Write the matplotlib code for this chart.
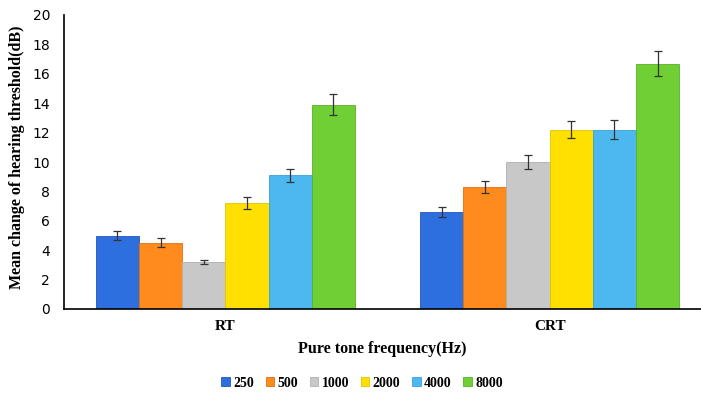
import numpy as np
import matplotlib.pyplot as plt

groups = ['RT', 'CRT']
freqs = ['250', '500', '1000', '2000', '4000', '8000']
means = {
    '250': [5.0, 6.6],
    '500': [4.5, 8.3],
    '1000': [3.2, 10.0],
    '2000': [7.2, 12.2],
    '4000': [9.1, 12.2],
    '8000': [13.9, 16.7],
}
errs = {
    '250': [0.3, 0.35],
    '500': [0.3, 0.4],
    '1000': [0.12, 0.5],
    '2000': [0.4, 0.6],
    '4000': [0.45, 0.65],
    '8000': [0.7, 0.85],
}
colors = ['#2E6FE0', '#FF8A1E', '#C8C8C8', '#FFE000', '#4DB8F0', '#6FCF35']
edges = ['#2458B8', '#E07010', '#B0B0B0', '#E0C400', '#3AA0D8', '#5AB028']

fig = plt.figure(figsize=(7.01, 3.94), dpi=100)
ax = fig.add_axes([64/701, 85/394, 637/701, 294/394])

x = np.arange(len(groups))
w = 0.1333
for i, f in enumerate(freqs):
    pos = x + (i - 2.5) * w
    ax.bar(pos, means[f], w, color=colors[i], edgecolor=edges[i], linewidth=0.6,
           label=f, yerr=errs[f], capsize=3,
           error_kw=dict(ecolor='#333333', elinewidth=0.9, capthick=0.9))

ax.set_xlim(-0.498, 1.467)
ax.set_ylim(0, 20)
ax.set_yticks(range(0, 21, 2))
ax.set_xticks(x)
ax.set_xticklabels(groups, fontfamily='Liberation Serif', fontweight='bold', fontsize=11)
ax.tick_params(axis='both', length=0)
ax.tick_params(axis='y', labelsize=10, pad=10)
ax.tick_params(axis='x', pad=8)
for s in ['top', 'right']:
    ax.spines[s].set_visible(False)
ax.spines['left'].set_linewidth(1.2)
ax.spines['bottom'].set_linewidth(1.2)

ax.set_ylabel('Mean change of hearing threshold(dB)', fontfamily='Liberation Serif',
              fontweight='bold', fontsize=11.5)
ax.yaxis.set_label_coords(-0.061, 0.515)
ax.set_xlabel('Pure tone frequency(Hz)', fontfamily='Liberation Serif',
              fontweight='bold', fontsize=11.5, labelpad=6)

leg = ax.legend(loc='center', bbox_to_anchor=(0.468, -0.252), ncol=6, frameon=False,
                handlelength=0.6, handleheight=0.6, handletextpad=0.25, columnspacing=0.85,
                prop=dict(family='Liberation Serif', weight='bold', size=10))

fig.savefig('out.png', dpi=100)
